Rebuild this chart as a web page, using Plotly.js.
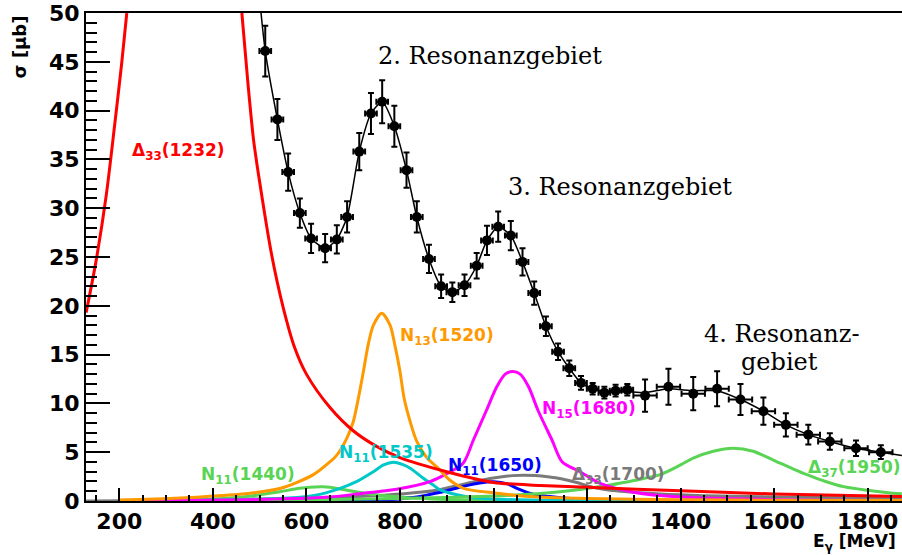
<!DOCTYPE html>
<html>
<head>
<meta charset="utf-8">
<script src="https://cdn.plot.ly/plotly-3.0.1.min.js"></script>
<style>html,body{margin:0;padding:0;background:#fff;}#chart{width:902px;height:555px;}</style>
</head>
<body>
<div id="chart"></div>
<script>
// Measured total cross section (data points)
var energy = [512,538,561,586,610,640,665,687,713,738,762,788,814,836,862,888,912,938,964,986,1010,1037,1062,1087,1112,1138,1162,1187,1212,1237,1261,1286,1324,1374,1427,1478,1528,1577,1625,1673,1719,1775,1828];
var sigma = [46.1,39.1,33.7,29.5,26.9,25.9,26.8,29.1,35.8,39.7,40.9,38.4,33.9,29.1,24.8,22.0,21.4,22.1,24.1,26.7,28.1,27.2,24.5,21.3,17.9,15.3,13.6,12.1,11.5,11.1,11.3,11.4,10.8,11.7,11.0,11.5,10.4,9.2,7.8,6.8,6.1,5.4,5.0];
var sigmaErr = [2.6,2.1,1.9,1.5,1.5,1.45,1.45,1.6,1.9,2.1,2.2,2.1,1.8,1.6,1.45,1.2,1.0,1.1,1.3,1.5,1.55,1.5,1.4,1.2,1.0,0.85,0.8,0.7,0.6,0.6,0.6,0.6,1.65,1.85,1.7,1.8,1.6,1.4,1.2,1.0,0.85,0.8,0.7];
var energyErr = [12.5,12.5,12.5,12.5,12.5,12.5,12.5,12.5,12.5,12.5,12.5,12.5,12.5,12.5,12.5,12.5,12.5,12.5,12.5,12.5,12.5,12.5,12.5,12.5,12.5,12.5,12.5,12.5,12.5,12.5,12.5,12.5,25,25,25,25,25,25,25,25,25,25,25];

// Total fit curve
var fitE = [503,512,538,561,586,610,640,665,687,713,738,762,788,814,836,862,888,912,938,964,986,1010,1037,1062,1087,1112,1138,1162,1187,1212,1237,1261,1286,1324,1374,1427,1478,1528,1577,1625,1673,1719,1775,1828,1873];
var fitSigma = [50,46.1,39.1,33.7,29.5,26.9,25.9,26.8,29.1,35.8,39.7,40.9,38.4,33.9,29.1,24.8,22.0,21.4,22.1,24.1,26.7,28.1,27.2,24.5,21.3,17.9,15.3,13.6,12.1,11.5,11.2,11.2,11.2,11.1,11.5,11.3,11.3,10.4,9.2,7.8,6.8,6.1,5.4,5.0,4.66];

// Resonance contributions
var d1232E = [129,150,172,190,205,216,null,462,475,487,500,525,550,575,600,650,700,750,800,900,1000,1100,1200,1400,1600,1873];
var d1232S = [19.3,24.5,31.3,38.5,44.8,50,null,50,42.8,37.0,32.7,25.4,19.9,15.7,13.0,9.6,7.2,5.6,4.45,3.0,1.9,1.6,1.4,1.05,0.72,0.45];

var n1520E = [200,260,330,400,480,545,615,650,665,686,700,711,722,732,743,761,779,789,800,809,822,836,858,882,905,936,1007,1078,1200,1400,1600,1873];
var n1520S = [0.1,0.17,0.3,0.5,0.8,1.3,2.7,4.0,4.7,6.4,8.1,10.5,13.3,16.0,18.0,19.24,18.0,16.0,13.3,10.5,8.1,6.1,4.4,3.35,2.2,1.3,0.8,0.45,0.25,0.12,0.08,0.05];

var n1535E = [200,400,500,560,620,672,707,743,765,786,805,822,850,871,886,943,1000,1100,1250,1500,1873];
var n1535S = [0.02,0.1,0.18,0.3,0.6,1.3,1.98,3.0,3.7,3.97,3.75,3.35,2.33,1.64,1.13,0.44,0.2,0.08,0.04,0.02,0.01];

var n1440E = [200,300,400,480,543,586,630,650,693,730,800,900,1000,1200,1500,1873];
var n1440S = [0.02,0.06,0.2,0.5,0.95,1.3,1.45,1.42,1.05,0.75,0.4,0.15,0.06,0.02,0.01,0.0];

var n1650E = [200,500,700,800,857,900,940,970,1000,1030,1050,1085,1120,1157,1250,1400,1600,1873];
var n1650S = [0.0,0.02,0.08,0.2,0.6,1.05,1.55,1.85,1.98,1.75,1.3,0.7,0.45,0.28,0.12,0.05,0.02,0.01];

var n1680E = [200,500,650,722,793,864,900,935,957,985,1007,1025,1041,1057,1075,1095,1125,1147,1185,1228,1300,1400,1600,1873];
var n1680S = [0.02,0.15,0.4,0.8,1.2,1.98,2.8,3.87,6.25,9.3,11.7,13.0,13.26,13.0,11.7,9.3,6.25,4.0,3.0,1.8,0.9,0.4,0.15,0.05];

var d1700E = [129,300,500,650,729,800,871,943,1000,1040,1064,1090,1120,1142,1178,1213,1250,1285,1356,1450,1570,1700,1873];
var d1700S = [0.0,0.05,0.2,0.35,0.5,0.72,1.05,1.8,2.35,2.6,2.65,2.6,2.45,2.3,1.9,1.4,1.1,0.95,0.72,0.55,0.44,0.36,0.3];

var d1950E = [200,400,600,800,1000,1142,1249,1300,1356,1400,1427,1470,1512,1555,1598,1640,1670,1710,1748,1800,1855,1873];
var d1950S = [0.0,0.05,0.12,0.25,0.5,0.95,1.64,2.1,2.7,3.7,4.4,5.1,5.4,5.1,4.2,3.3,2.7,2.0,1.47,1.1,0.8,0.75];

var colRed = '#ff0000', colOrange = '#ff9900', colCyan = '#00c8c8', colGreen = '#59d454',
    colBlue = '#0000ff', colMag = '#ff00ff', colGrey = '#7a7a7a';

function curve(x, y, c) {
  return {x: x, y: y, type: 'scatter', mode: 'lines', connectgaps: false,
          line: {color: c, width: 3, shape: 'spline', smoothing: 0.8}, hoverinfo: 'skip', showlegend: false};
}

var traces = [
  curve(d1700E, d1700S, colGrey),
  curve(n1440E, n1440S, colGreen),
  curve(n1650E, n1650S, colBlue),
  curve(n1535E, n1535S, colCyan),
  curve(d1950E, d1950S, colGreen),
  curve(n1680E, n1680S, colMag),
  curve(n1520E, n1520S, colOrange),
  curve(d1232E, d1232S, colRed),
  {x: fitE, y: fitSigma, type: 'scatter', mode: 'lines', line: {color: '#000', width: 1.5, shape: 'spline', smoothing: 0.6}, showlegend: false},
  {x: energy, y: sigma, type: 'scatter', mode: 'markers', showlegend: false,
   marker: {color: '#000', size: 10, symbol: 'circle'},
   error_y: {type: 'data', array: sigmaErr, visible: true, color: '#000', thickness: 2, width: 3},
   error_x: {type: 'data', array: energyErr, visible: true, color: '#000', thickness: 2, width: 3}}
];

function reslab(txt, x, y, c) {
  return {text: txt, x: x, y: y, xref: 'x', yref: 'y', xanchor: 'left', yanchor: 'middle', showarrow: false,
          font: {family: 'DejaVu Sans', size: 17, weight: 'bold', color: c}};
}
var serif = {family: 'DejaVu Serif', size: 24, color: '#000'};
function serlab(txt, x, y) {
  return {text: txt, x: x, y: y, xref: 'x', yref: 'y', xanchor: 'left', yanchor: 'middle', showarrow: false, font: serif};
}

var annotations = [
  reslab('Δ<sub>33</sub>(1232)', 223, 35.8, colRed),
  reslab('N<sub>13</sub>(1520)', 796, 16.9, colOrange),
  reslab('N<sub>11</sub>(1535)', 666, 4.9, colCyan),
  reslab('N<sub>11</sub>(1650)', 898, 3.55, colBlue),
  reslab('N<sub>15</sub>(1680)', 1099, 9.4, colMag),
  reslab('N<sub>11</sub>(1440)', 371, 2.6, colGreen),
  reslab('Δ<sub>33</sub>(1700)', 1163, 2.65, colGrey),
  reslab('Δ<sub>37</sub>(1950)', 1669, 3.35, colGreen),
  serlab('2. Resonanzgebiet', 748, 45.6),
  serlab('3. Resonanzgebiet', 1026, 32.2),
  serlab('4. Resonanz-', 1446, 17.1),
  serlab('gebiet', 1525, 14.2),
  {text: 'σ [μb]', xref: 'paper', yref: 'paper', x: -0.081, y: 1, xanchor: 'center', yanchor: 'top', textangle: -90, showarrow: false,
   font: {family: 'DejaVu Sans', size: 18, weight: 'bold', color: '#000'}},
  {text: 'E<sub>γ</sub> [MeV]', xref: 'paper', yref: 'paper', x: 0.888, y: -0.086, xanchor: 'left', yanchor: 'middle', showarrow: false,
   font: {family: 'DejaVu Sans', size: 17, weight: 'bold', color: '#000'}}
];

var tickfont = {family: 'DejaVu Sans', size: 22, weight: 'bold', color: '#000'};
var layout = {
  width: 902, height: 555,
  margin: {l: 86, r: 0, t: 13, b: 54, pad: 0},
  paper_bgcolor: '#fff', plot_bgcolor: '#fff',
  showlegend: false,
  xaxis: {range: [128.8, 1873.3], showline: true, linecolor: '#000', linewidth: 2, mirror: true,
          ticks: 'inside', ticklen: 13, tickwidth: 2, tickcolor: '#000', tick0: 0, dtick: 200,
          minor: {ticks: 'inside', dtick: 50, ticklen: 6, tickwidth: 2, tickcolor: '#000', showgrid: false},
          showgrid: false, zeroline: false, tickfont: tickfont},
  yaxis: {range: [0, 50], showline: true, linecolor: '#000', linewidth: 2, mirror: false,
          ticks: 'inside', ticklen: 24, tickwidth: 2, tickcolor: '#000', tick0: 0, dtick: 5,
          minor: {ticks: 'inside', dtick: 1, ticklen: 11, tickwidth: 2, tickcolor: '#000', showgrid: false},
          showgrid: false, zeroline: false, tickfont: tickfont},
  annotations: annotations
};

Plotly.newPlot('chart', traces, layout, {staticPlot: true, displayModeBar: false});
</script>
</body>
</html>
